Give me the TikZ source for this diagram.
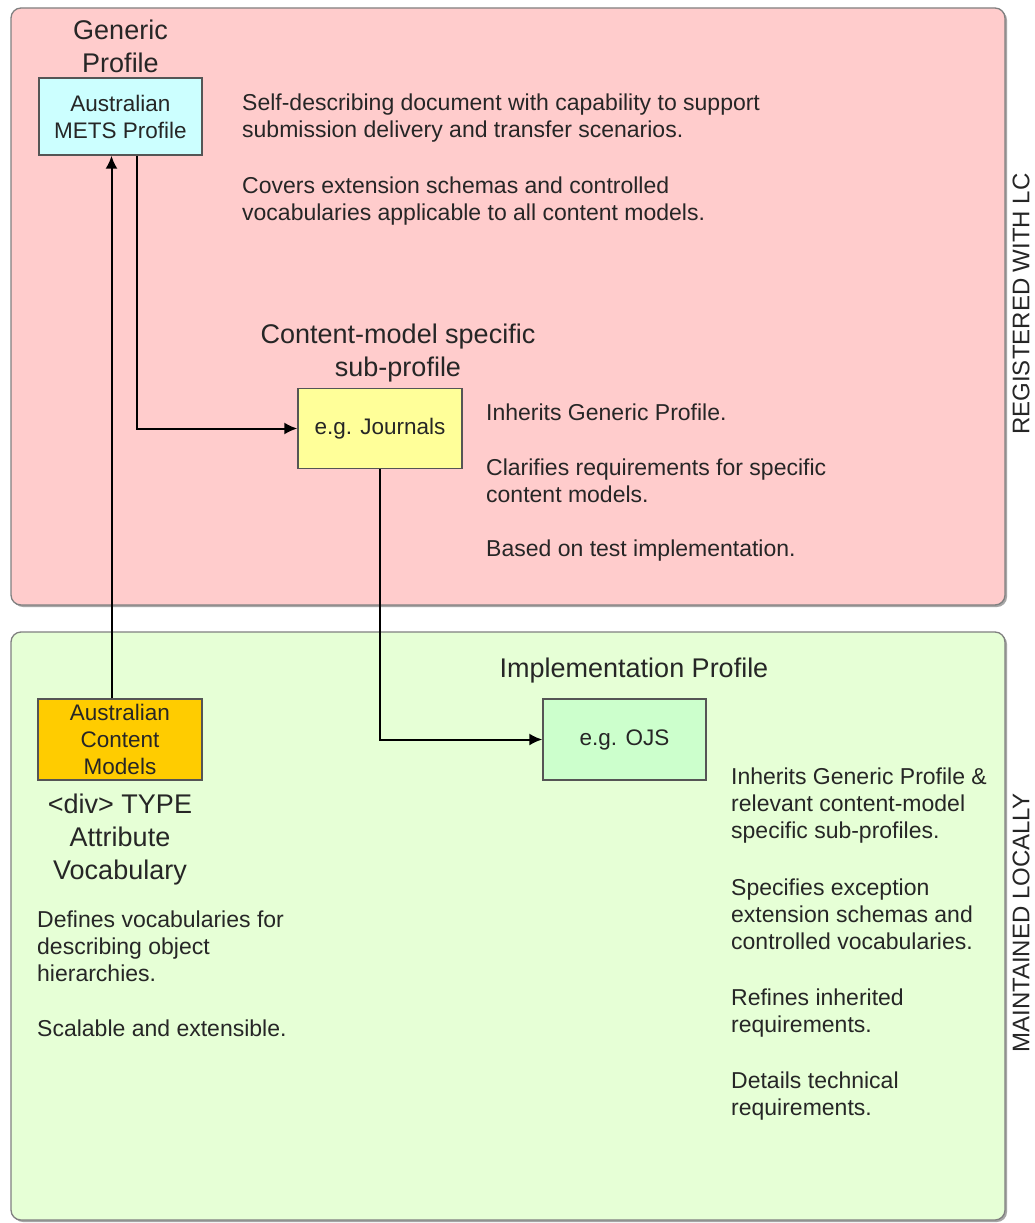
\documentclass[tikz,border=0pt]{standalone}
\usepackage{fontspec}
\setmainfont{Liberation Sans}
\usetikzlibrary{arrows.meta}
\definecolor{panelpink}{HTML}{FFCCCC}
\definecolor{panelgreen}{HTML}{E6FFD6}
\definecolor{boxblue}{HTML}{CCFFFF}
\definecolor{boxyellow}{HTML}{FFFF99}
\definecolor{boxorange}{HTML}{FFCC00}
\definecolor{boxgreen}{HTML}{CCFFCC}
\definecolor{txt}{HTML}{262626}
\definecolor{panelborder}{HTML}{808080}
\definecolor{boxborder}{HTML}{555555}
\tikzset{
  panel/.style={draw=panelborder, line width=1.3pt, rounded corners=10pt},
  profbox/.style={draw=boxborder, line width=1.4pt, minimum width=164pt, minimum height=80pt, inner sep=0pt, align=center, text=txt, font=\fontsize{22.5}{27}\selectfont},
  heading/.style={align=center, text=txt, inner sep=0pt, font=\fontsize{27}{33}\selectfont},
  body/.style={align=left, text=txt, inner sep=0pt, anchor=north west, font=\fontsize{23}{27}\selectfont},
  sidelabel/.style={rotate=90, text=txt, inner sep=0pt, font=\fontsize{24}{28}\selectfont},
  arr/.style={line width=2pt, draw=black, -{Latex[length=13pt,width=12pt]}}
}
\begin{document}
\begin{tikzpicture}[x=1pt,y=-1pt]
\useasboundingbox (0,0) rectangle (1034,1223);
\fill[white] (0,0) rectangle (1034,1223);
% panels
\fill[black!35, rounded corners=10pt] (13,10) rectangle (1007,607);
\draw[panel, fill=panelpink] (11,8) rectangle (1005,605);
\fill[black!35, rounded corners=10pt] (13,634) rectangle (1007,1222);
\draw[panel, fill=panelgreen] (11,632) rectangle (1005,1220);
% side labels
\node[sidelabel] (reg) at (1021,304) {REGISTERED WITH LC};
\node[sidelabel] (loc) at (1021,923) {MAINTAINED LOCALLY};
% headings
\node[heading] (hgen) at (120.5,46) {Generic\\Profile};
\node[heading] (hsub) at (398,353) {Content-model specific\\sub-profile};
\node[heading] (himp) at (634,671) {Implementation Profile};
\node[heading] (hdiv) at (120,840) {<div> TYPE\\Attribute\\Vocabulary};
% boxes
\node[profbox, fill=boxblue, minimum width=163pt, minimum height=77pt] (mets) at (120.5,116.5) {Australian\\METS Profile};
\node[profbox, fill=boxyellow] (jour) at (380,428.5) {e.g. Journals};
\node[profbox, fill=boxorange, minimum width=164pt, minimum height=81pt] (acm) at (120,739.5) {Australian\\Content\\Models};
\node[profbox, fill=boxgreen, minimum width=163pt, minimum height=81pt] (ojs) at (624.5,739.5) {e.g. OJS};
% descriptive text
\node[body] (tgen) at (242,94) {Self-describing document with capability to support\\submission delivery and transfer scenarios.\\[29pt]Covers extension schemas and controlled\\vocabularies applicable to all content models.};
\node[body] (tsub) at (486,404) {Inherits Generic Profile.\\[28pt]Clarifies requirements for specific\\content models.\\[27pt]Based on test implementation.};
\node[body] (tdiv) at (37,911) {Defines vocabularies for\\describing object\\hierarchies.\\[28pt]Scalable and extensible.};
\node[body] (timp) at (731,768) {Inherits Generic Profile \&\\relevant content-model\\specific sub-profiles.\\[30pt]Specifies exception\\extension schemas and\\controlled vocabularies.\\[29pt]Refines inherited\\requirements.\\[29pt]Details technical\\requirements.};
% connectors
\draw[arr] ([xshift=16pt]mets.south) |- (jour.west);
\draw[arr] ([xshift=-8.5pt]acm.north) -- ([xshift=-9pt]mets.south);
\draw[arr] (jour.south) |- (ojs.west);
\end{tikzpicture}
\end{document}
